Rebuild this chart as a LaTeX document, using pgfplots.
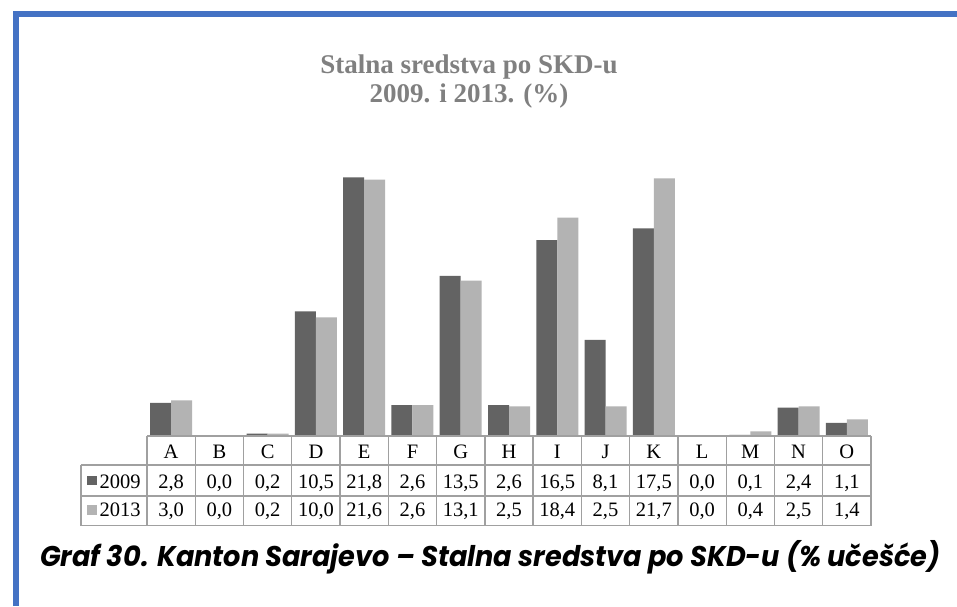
\documentclass[border=0pt]{standalone}
\usepackage{fontspec}
\setmainfont{Liberation Serif}
\newfontfamily\capfont{Poppins}
\usepackage{graphicx}
\usepackage{pgfplots}
\pgfplotsset{compat=1.18}
\definecolor{bdark}{HTML}{636363}
\definecolor{blight}{HTML}{B3B3B3}
\definecolor{gridc}{HTML}{A0A0A0}
\definecolor{ttl}{HTML}{808080}
\definecolor{bord}{HTML}{4472C4}
\begin{document}
\begin{tikzpicture}
\begin{scope}[x=1pt,y=1pt]
\useasboundingbox (0,0) rectangle (957,606);
\fill[white] (0,0) rectangle (957,606);
% page border
\draw[bord, line width=6pt] (16,0) -- (16,592) -- (957,592);
% title
\node[ttl, inner sep=0, anchor=base, font=\fontsize{27}{29}\selectfont\bfseries] at (469,532) {Stalna sredstva po SKD-u};
\node[ttl, inner sep=0, anchor=base, font=\fontsize{27}{29}\selectfont\bfseries] at (469,503) {2009. i 2013. (\%)};
% caption
\node[inner sep=0, anchor=base west] at (40,39.3) {\resizebox{900pt}{\height}{\capfont\bfseries\itshape\fontsize{28.5}{30}\selectfont Graf 30. Kanton Sarajevo – Stalna sredstva po SKD-u (\% učešće)}};
\end{scope}
\begin{axis}[
  at={(147pt,170pt)}, anchor=south west,
  scale only axis, width=724pt, height=261.1pt,
  xmin=-0.5, xmax=14.5, ymin=0, ymax=22,
  ybar=0pt, bar width=21pt,
  axis line style={draw=none},
  ytick=\empty,
  xtick={0,...,14},
  xticklabels={A,B,C,D,E,F,G,H,I,J,K,L,M,N,O},
  major tick length=0pt,
  xticklabel style={font=\fontsize{20.5}{22}\selectfont, anchor=base, yshift=-22.3pt, inner sep=0pt},
  clip=false,
]
\addplot[fill=bdark, draw=none] coordinates {(0,2.8) (1,0.0) (2,0.2) (3,10.5) (4,21.8) (5,2.6) (6,13.5) (7,2.6) (8,16.5) (9,8.1) (10,17.5) (11,0.0) (12,0.1) (13,2.4) (14,1.1)};
\addplot[fill=blight, draw=none] coordinates {(0,3.0) (1,0.0) (2,0.2) (3,10.0) (4,21.6) (5,2.6) (6,13.1) (7,2.5) (8,18.4) (9,2.5) (10,21.7) (11,0.0) (12,0.4) (13,2.5) (14,1.4)};
\end{axis}
\begin{scope}[x=1pt,y=1pt]
% data table grid
\begin{scope}[gridc, line width=1.3pt]
\draw (147,170) -- (871,170);
\draw (81,141) -- (871,141);
\draw (81,110) -- (871,110);
\draw (81,80.5) -- (871,80.5);
\draw (81,80.5) -- (81,141);
\foreach \k in {0,...,15} \draw ({147+48.267*\k},80.5) -- ({147+48.267*\k},170);
\end{scope}
% legend keys
\fill[bdark] (87,120.7) rectangle (97,130.3);
\fill[blight] (87,91.5) rectangle (97,101.1);
\node[inner sep=0, anchor=base west, font=\fontsize{20.5}{22}\selectfont] at (99.5,118) {2009};
\node[inner sep=0, anchor=base west, font=\fontsize{20.5}{22}\selectfont] at (99.5,89.3) {2013};
\foreach \v [count=\i from 0] in {{2,8},{0,0},{0,2},{10,5},{21,8},{2,6},{13,5},{2,6},{16,5},{8,1},{17,5},{0,0},{0,1},{2,4},{1,1}}
  \node[inner sep=0, anchor=base, font=\fontsize{20.5}{22}\selectfont] at ({147+48.267*(\i+0.5)},118) {\v};
\foreach \v [count=\i from 0] in {{3,0},{0,0},{0,2},{10,0},{21,6},{2,6},{13,1},{2,5},{18,4},{2,5},{21,7},{0,0},{0,4},{2,5},{1,4}}
  \node[inner sep=0, anchor=base, font=\fontsize{20.5}{22}\selectfont] at ({147+48.267*(\i+0.5)},89.3) {\v};
\end{scope}
\end{tikzpicture}
\end{document}
